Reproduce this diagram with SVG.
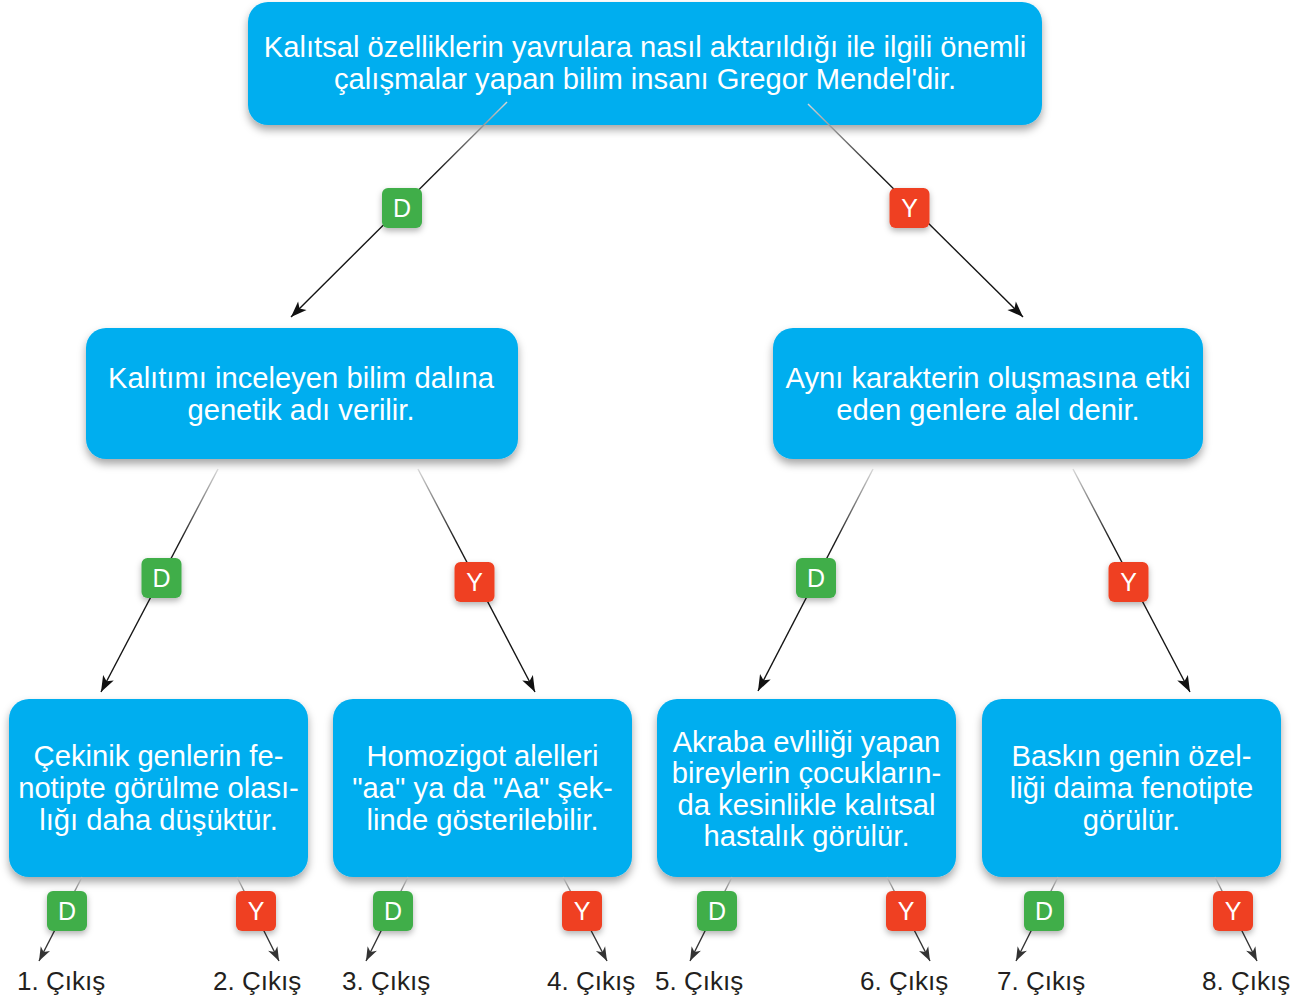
<svg xmlns="http://www.w3.org/2000/svg" width="1306" height="1003" viewBox="0 0 1306 1003">
<style>
.box{fill:#00AEEF;filter:url(#sh)}
.bt{font-family:"Liberation Sans",Arial,sans-serif;font-size:29.2px;fill:#fff;text-anchor:middle}
.bd{fill:#3FAE49;filter:url(#sh2)}
.by{fill:#EF4123;filter:url(#sh2)}
.bl{font-family:"Liberation Sans",Arial,sans-serif;font-size:25px;fill:#fff;text-anchor:middle}
.c{fill:none;stroke:url(#g1);stroke-width:1.4;marker-end:url(#ah)}
.cs{fill:none;stroke:url(#g2);stroke-width:1.4;marker-end:url(#ahs)}
.out{font-family:"Liberation Sans",Arial,sans-serif;font-size:26px;fill:#231F20}
</style>
<defs>
<filter id="sh" x="-10%" y="-20%" width="120%" height="150%">
<feDropShadow dx="0" dy="5" stdDeviation="4" flood-color="#000" flood-opacity="0.35"/>
</filter>
<filter id="sh2" x="-40%" y="-40%" width="180%" height="190%">
<feDropShadow dx="0" dy="3" stdDeviation="3" flood-color="#000" flood-opacity="0.3"/>
</filter>
<linearGradient id="g1" x1="0" y1="0" x2="0" y2="1">
<stop offset="0" stop-color="#d8d8d8"/>
<stop offset="0.32" stop-color="#1a1a1a"/>
<stop offset="1" stop-color="#111"/>
</linearGradient>
<linearGradient id="g2" x1="0" y1="0" x2="0" y2="1">
<stop offset="0" stop-color="#bbb"/>
<stop offset="0.45" stop-color="#333"/>
<stop offset="1" stop-color="#333"/>
</linearGradient>
<marker id="ah" viewBox="-17 -7 18 14" refX="0" refY="0" markerWidth="18" markerHeight="14" markerUnits="userSpaceOnUse" orient="auto">
<path d="M0,0 L-16,-6 L-12,0 L-16,6 Z" fill="#111"/>
</marker>
<marker id="ahs" viewBox="-15 -6 16 12" refX="0" refY="0" markerWidth="16" markerHeight="12" markerUnits="userSpaceOnUse" orient="auto">
<path d="M0,0 L-14,-5.2 L-10,0 L-14,5.2 Z" fill="#333"/>
</marker>
</defs>

<g id="n0">
<rect class="box" x="248" y="2" width="794" height="123" rx="20"/>
<text class="bt" x="645" y="57">Kalıtsal özelliklerin yavrulara nasıl aktarıldığı ile ilgili önemli</text>
<text class="bt" x="645" y="89">çalışmalar yapan bilim insanı Gregor Mendel'dir.</text>
</g>
<g id="n1">
<rect class="box" x="86" y="328" width="432" height="131" rx="20"/>
<text class="bt" x="301" y="388">Kalıtımı inceleyen bilim dalına</text>
<text class="bt" x="301" y="420">genetik adı verilir.</text>
</g>
<g id="n2">
<rect class="box" x="773" y="328" width="430" height="131" rx="20"/>
<text class="bt" x="988" y="388">Aynı karakterin oluşmasına etki</text>
<text class="bt" x="988" y="420">eden genlere alel denir.</text>
</g>
<g id="n3">
<rect class="box" x="9" y="699" width="299" height="178" rx="20"/>
<text class="bt" x="158.5" y="766">Çekinik genlerin fe-</text>
<text class="bt" x="158.5" y="798">notipte görülme olası-</text>
<text class="bt" x="158.5" y="830">lığı daha düşüktür.</text>
</g>
<g id="n4">
<rect class="box" x="333" y="699" width="299" height="178" rx="20"/>
<text class="bt" x="482.5" y="766">Homozigot alelleri</text>
<text class="bt" x="482.5" y="798">"aa" ya da "Aa" şek-</text>
<text class="bt" x="482.5" y="830">linde gösterilebilir.</text>
</g>
<g id="n5">
<rect class="box" x="657" y="699" width="299" height="178" rx="20"/>
<text class="bt" x="806.5" y="752">Akraba evliliği yapan</text>
<text class="bt" x="806.5" y="783">bireylerin çocukların-</text>
<text class="bt" x="806.5" y="815">da kesinlikle kalıtsal</text>
<text class="bt" x="806.5" y="846">hastalık görülür.</text>
</g>
<g id="n6">
<rect class="box" x="982" y="699" width="299" height="178" rx="20"/>
<text class="bt" x="1131.5" y="766">Baskın genin özel-</text>
<text class="bt" x="1131.5" y="798">liği daima fenotipte</text>
<text class="bt" x="1131.5" y="830">görülür.</text>
</g>

<g id="outputs">
<text class="out" x="17" y="990">1. Çıkış</text>
<text class="out" x="213" y="990">2. Çıkış</text>
<text class="out" x="342" y="990">3. Çıkış</text>
<text class="out" x="547" y="990">4. Çıkış</text>
<text class="out" x="655" y="990">5. Çıkış</text>
<text class="out" x="860" y="990">6. Çıkış</text>
<text class="out" x="997" y="990">7. Çıkış</text>
<text class="out" x="1202" y="990">8. Çıkış</text>
</g>

<g id="connectors">
<line class="c" x1="507" y1="102" x2="291" y2="317"/>
<line class="c" x1="808" y1="104" x2="1023" y2="317"/>
<line class="c" x1="218" y1="469" x2="101" y2="692"/>
<line class="c" x1="418" y1="469" x2="535" y2="692"/>
<line class="c" x1="873" y1="469" x2="758" y2="691"/>
<line class="c" x1="1073" y1="469" x2="1190" y2="692"/>
<line class="cs" x1="82" y1="877" x2="39" y2="961"/>
<line class="cs" x1="237" y1="877" x2="279" y2="961"/>
<line class="cs" x1="408" y1="877" x2="366" y2="961"/>
<line class="cs" x1="563" y1="877" x2="607" y2="961"/>
<line class="cs" x1="732" y1="877" x2="690" y2="961"/>
<line class="cs" x1="887" y1="877" x2="930" y2="961"/>
<line class="cs" x1="1058" y1="877" x2="1016" y2="961"/>
<line class="cs" x1="1215" y1="877" x2="1257" y2="961"/>
<g id="labels">
<rect class="bd" x="382" y="188" width="40" height="40" rx="6"/><text class="bl" x="402" y="217">D</text>
<rect class="by" x="889.5" y="188" width="40" height="40" rx="6"/><text class="bl" x="909.5" y="217">Y</text>
<rect class="bd" x="141.5" y="558" width="40" height="40" rx="6"/><text class="bl" x="161.5" y="587">D</text>
<rect class="by" x="454.5" y="562" width="40" height="40" rx="6"/><text class="bl" x="474.5" y="591">Y</text>
<rect class="bd" x="796" y="558" width="40" height="40" rx="6"/><text class="bl" x="816" y="587">D</text>
<rect class="by" x="1108.5" y="562" width="40" height="40" rx="6"/><text class="bl" x="1128.5" y="591">Y</text>
<rect class="bd" x="47" y="891" width="40" height="40" rx="6"/><text class="bl" x="67" y="920">D</text>
<rect class="by" x="236" y="891" width="40" height="40" rx="6"/><text class="bl" x="256" y="920">Y</text>
<rect class="bd" x="373" y="891" width="40" height="40" rx="6"/><text class="bl" x="393" y="920">D</text>
<rect class="by" x="562" y="891" width="40" height="40" rx="6"/><text class="bl" x="582" y="920">Y</text>
<rect class="bd" x="697" y="891" width="40" height="40" rx="6"/><text class="bl" x="717" y="920">D</text>
<rect class="by" x="886" y="891" width="40" height="40" rx="6"/><text class="bl" x="906" y="920">Y</text>
<rect class="bd" x="1024" y="891" width="40" height="40" rx="6"/><text class="bl" x="1044" y="920">D</text>
<rect class="by" x="1213" y="891" width="40" height="40" rx="6"/><text class="bl" x="1233" y="920">Y</text>
</g>
</g>
</svg>
